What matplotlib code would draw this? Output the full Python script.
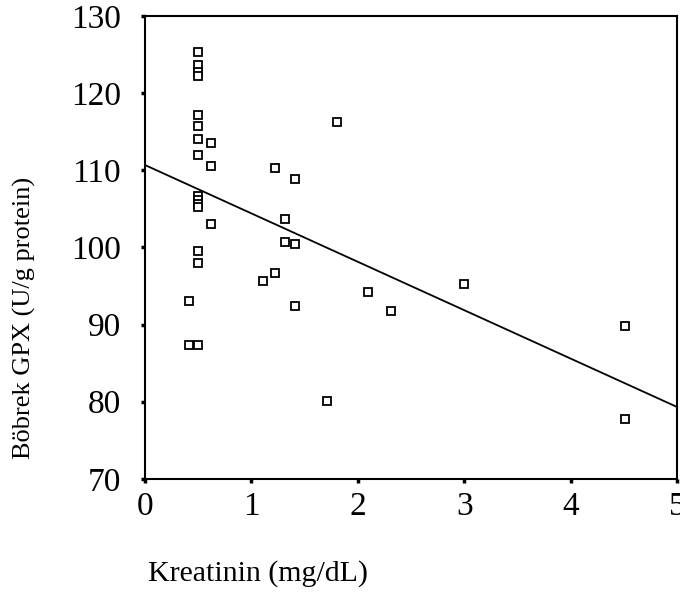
import numpy as np
import matplotlib
matplotlib.use("Agg")
import matplotlib.pyplot as plt

# Kreatinin (mg/dL) vs Böbrek GPX (U/g protein)
kreatinin = [0.5, 0.5, 0.5, 0.5, 0.5, 0.5, 0.5, 0.5, 0.62, 0.62,
             0.5, 0.5, 0.5, 0.5, 0.62, 0.5, 0.5, 0.41, 0.41, 0.5,
             1.8, 1.22, 1.41, 1.32, 1.32, 1.41, 1.22, 1.11, 1.41,
             2.1, 2.31, 3.0, 1.71, 4.51, 4.51]
gpx = [125.4, 123.6, 122.8, 122.2, 117.2, 115.8, 114.1, 112.0, 113.6, 110.6,
       106.7, 106.2, 105.7, 105.3, 103.0, 99.5, 98.0, 93.0, 87.4, 87.4,
       116.3, 110.3, 108.9, 103.7, 100.7, 100.4, 96.7, 95.6, 92.4,
       94.2, 91.7, 95.2, 80.1, 89.8, 77.8]

# fitted line as drawn in the figure
fit_intercept = 110.7
fit_slope = -6.28

x_ticks = [0, 1, 2, 3, 4, 5]
y_ticks = [70, 80, 90, 100, 110, 120, 130]

plt.rcParams["font.family"] = ["Liberation Serif", "DejaVu Serif"]

fig = plt.figure(figsize=(6.8, 5.97), dpi=100)
ax = fig.add_axes([0.213, 0.198, 0.783, 0.775])

ax.plot(kreatinin, gpx, linestyle="none", marker="s", markersize=6,
        markerfacecolor="white", markeredgecolor="black", markeredgewidth=1.3)

xl = np.array([0, 5])
ax.plot(xl, fit_intercept + fit_slope * xl, color="black", linewidth=1.3)

ax.set_xlim(0, 5)
ax.set_ylim(70, 130)
ax.set_xticks(x_ticks)
ax.set_yticks(y_ticks)
ax.tick_params(direction="out", length=3, width=2.5, labelsize=24)
ax.tick_params(axis="y", pad=14)
ax.tick_params(axis="x", pad=6)
for s in ax.spines.values():
    s.set_linewidth(1.5)

# axis titles placed as in the reference
fig.text(148 / 680, 1 - 574 / 597, "Kreatinin (mg/dL)", fontsize=21.5,
         ha="left", va="center")
fig.text(24 / 680, 1 - 318 / 597, "Böbrek GPX (U/g protein)", fontsize=19,
         rotation=90, ha="center", va="center")

fig.savefig("out.png", dpi=100)
